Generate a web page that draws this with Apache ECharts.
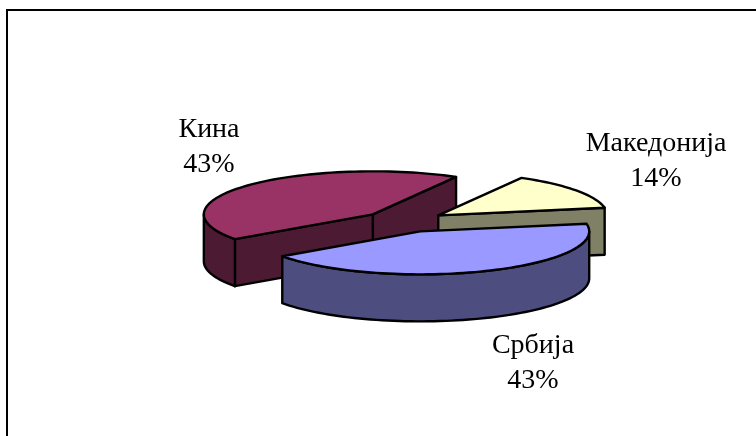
<!DOCTYPE html>
<html>
<head>
    <meta charset="utf-8"/>
    <title>ECharts</title>
    <script src="https://cdn.jsdelivr.net/npm/echarts@6/dist/echarts.min.js"></script>
</head>
<body style="margin: 0; background: #fff">
<div id="main" style="width: 756px; height: 436px"></div>
<script type="text/javascript">
    var categories = ['Македонија', 'Кина', 'Србија'];
    var values = [14, 43, 43];

    var topColors = ['#ffffcc', '#993366', '#9999ff'];
    var sideColors = ['#808066', '#4d1a33', '#4d4d80'];
    // label centres
    var labelX = [656, 209, 533];
    var labelY = [161, 147, 363];

    var START_ANGLE = 10.1; // first slice starts here, going counter clockwise
    var CX = 404, CY = 221.5;
    var RX = 169, RY = 43, DEPTH = 47, EXPLODE = 42;
    var total = values.reduce(function (a, b) { return a + b; }, 0);

    var myChart = echarts.init(document.getElementById('main'));

    function rad(d) {
        return d * Math.PI / 180;
    }

    function rim(center, deg, drop) {
        return [center[0] + RX * Math.cos(rad(deg)), center[1] - RY * Math.sin(rad(deg)) + (drop || 0)];
    }

    function arcPoints(center, from, to, drop) {
        var pts = [];
        var n = Math.max(2, Math.ceil(Math.abs(to - from) / 2));
        for (var i = 0; i <= n; i++) {
            pts.push(rim(center, from + (to - from) * i / n, drop));
        }
        return pts;
    }

    function poly(pts, fill) {
        return {
            type: 'polygon',
            shape: {points: pts},
            style: {fill: fill, stroke: '#000', lineWidth: 2.4, lineJoin: 'round'}
        };
    }

    function sliceAngles(idx) {
        var from = START_ANGLE;
        for (var i = 0; i < idx; i++) {
            from += values[i] / total * 360;
        }
        return [from, from + values[idx] / total * 360];
    }

    function renderSlice(params, api) {
        var i = api.value(0);
        var a = sliceAngles(i);
        var mid = (a[0] + a[1]) / 2;
        var c = [CX + EXPLODE * Math.cos(rad(mid)), CY - EXPLODE * (RY / RX) * Math.sin(rad(mid))];
        var cBottom = [c[0], c[1] + DEPTH];
        var children = [];

        // cut faces, only those turned to the viewer
        [[a[0], a[0] - 90], [a[1], a[1] + 90]].forEach(function (f) {
            if (Math.sin(rad(f[1])) < 0) {
                var p = rim(c, f[0]);
                children.push(poly([c, p, [p[0], p[1] + DEPTH], cBottom], sideColors[i]));
            }
        });

        // outer wall, the front half of the rim
        [[180, 360], [540, 720]].forEach(function (r) {
            var from = Math.max(a[0], r[0]), to = Math.min(a[1], r[1]);
            if (to > from) {
                children.push(poly(arcPoints(c, from, to).concat(arcPoints(c, to, from, DEPTH)), sideColors[i]));
            }
        });

        // top face
        children.push(poly([c].concat(arcPoints(c, a[0], a[1])), topColors[i]));

        return {type: 'group', children: children};
    }

    function renderLabel(params, api) {
        var i = api.value(0);
        return {
            type: 'text',
            x: labelX[i],
            y: labelY[i],
            style: {
                text: categories[i] + '\n' + Math.round(values[i] / total * 100) + '%',
                fill: '#000',
                font: '28px "Liberation Serif"',
                lineHeight: 35,
                align: 'center',
                verticalAlign: 'middle'
            }
        };
    }

    // back slice first, the blue one ends up on top
    var order = [1, 0, 2];

    var option = {
        backgroundColor: '#fff',
        animation: false,
        graphic: [{
            type: 'polyline',
            shape: {points: [[7, 436], [7, 10], [756, 10]]},
            style: {fill: null, stroke: '#000', lineWidth: 2}
        }],
        series: [
            {
                type: 'custom',
                coordinateSystem: 'none',
                renderItem: renderSlice,
                data: order.map(function (i) { return [i, values[i]]; })
            },
            {
                type: 'custom',
                coordinateSystem: 'none',
                renderItem: renderLabel,
                data: categories.map(function (c, i) { return [i]; })
            }
        ]
    };

    myChart.setOption(option);
</script>
</body>
</html>
